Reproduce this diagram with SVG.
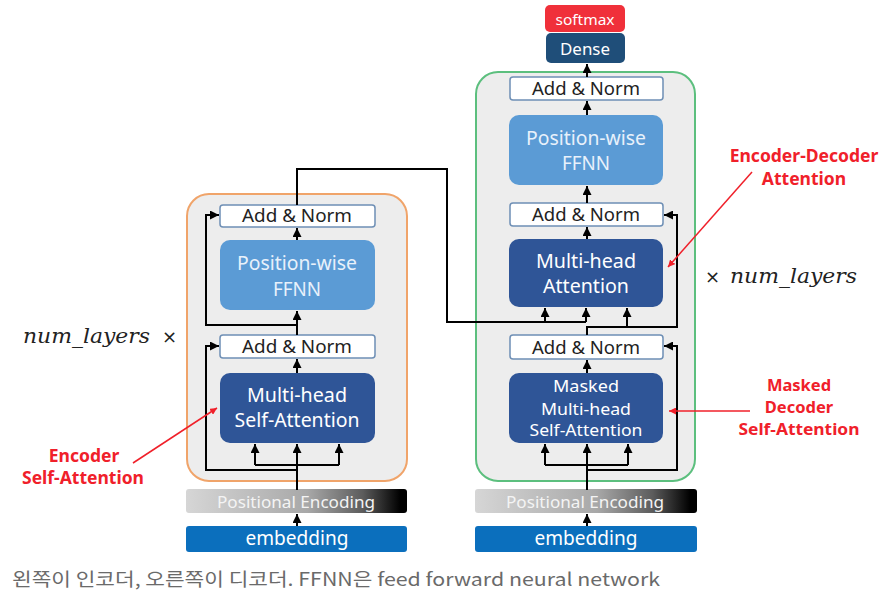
<svg xmlns="http://www.w3.org/2000/svg" width="894" height="599" viewBox="0 0 894 599">
<defs>
<linearGradient id="peGrad" x1="0" y1="0" x2="1" y2="0">
<stop offset="0" stop-color="#d6d6d6"/>
<stop offset="0.55" stop-color="#a8a8a8"/>
<stop offset="0.8" stop-color="#5c5c5c"/>
<stop offset="0.97" stop-color="#000000"/>
</linearGradient>
<marker id="ah" viewBox="0 0 10 10" refX="10" refY="5" markerWidth="9" markerHeight="9" markerUnits="userSpaceOnUse" orient="auto">
<path d="M0,0 L10,5 L0,10 z" fill="#000"/>
</marker>
<marker id="ahr" viewBox="0 0 10 10" refX="10" refY="5" markerWidth="7" markerHeight="7" markerUnits="userSpaceOnUse" orient="auto">
<path d="M0,0 L10,5 L0,10 z" fill="#f0202a"/>
</marker>
<style>
.cont{fill:#ededed;stroke-width:2}
.an{fill:#ffffff;stroke:#6e8fb5;stroke-width:1.5}
.ff{fill:#5b9bd5}
.mh{fill:#2f5597}
.t{font-family:"Noto Sans","Liberation Sans",sans-serif;text-anchor:middle}
.dk{fill:#222}
.wt{fill:#ffffff}
.lt{fill:#e8f1fb}
.red{font-family:"Noto Sans","Liberation Sans",sans-serif;font-weight:bold;fill:#f0202a;font-size:17.5px;text-anchor:middle}
.red2{font-family:"Noto Sans","Liberation Sans",sans-serif;font-weight:bold;fill:#f0202a;font-size:16.5px;text-anchor:middle}
.math{font-family:"DejaVu Serif","Liberation Serif",serif;font-style:italic;fill:#222;font-size:21px}
.x{font-family:"DejaVu Sans","Liberation Sans",sans-serif;fill:#222;font-size:18px}
.c{fill:none;stroke:#000;stroke-width:2}
.ca{fill:none;stroke:#000;stroke-width:2;marker-end:url(#ah)}
.cr{fill:none;stroke:#f0202a;stroke-width:1.5;marker-end:url(#ahr)}
</style>
</defs>
<rect width="894" height="599" fill="#ffffff"/>

<g id="encoder-block">
<rect class="cont" x="187" y="194" width="220" height="287" rx="22" stroke="#f0a46a"/>
</g>
<g id="decoder-block">
<rect class="cont" x="476" y="72" width="219" height="409" rx="22" stroke="#5cbf7e"/>
</g>

<g id="enc-embedding">
<rect x="186" y="526" width="221" height="26" rx="3" fill="#0b6fbd"/>
<text class="t wt" x="297" y="545" font-size="20" textLength="103" lengthAdjust="spacingAndGlyphs">embedding</text>
</g>
<g id="enc-pe">
<rect x="186" y="489" width="221" height="24" rx="3" fill="url(#peGrad)"/>
<text class="t" fill="#f4f4f4" x="296" y="508" font-size="17" textLength="158" lengthAdjust="spacingAndGlyphs">Positional Encoding</text>
</g>
<g id="enc-mhsa">
<rect class="mh" x="220" y="373" width="155" height="70" rx="10"/>
<text class="t wt" x="297" y="402" font-size="19" textLength="100" lengthAdjust="spacingAndGlyphs">Multi-head</text>
<text class="t wt" x="297" y="427" font-size="19" textLength="125" lengthAdjust="spacingAndGlyphs">Self-Attention</text>
</g>
<g id="enc-addnorm1">
<rect class="an" x="220" y="335" width="155" height="23" rx="3"/>
<text class="t dk" x="297" y="353" font-size="18" textLength="110" lengthAdjust="spacingAndGlyphs">Add &amp; Norm</text>
</g>
<g id="enc-ffnn">
<rect class="ff" x="220" y="240" width="155" height="70" rx="10"/>
<text class="t lt" x="297" y="270" font-size="19" textLength="120" lengthAdjust="spacingAndGlyphs">Position-wise</text>
<text class="t lt" x="297" y="296" font-size="19" textLength="48" lengthAdjust="spacingAndGlyphs">FFNN</text>
</g>
<g id="enc-addnorm2">
<rect class="an" x="220" y="205" width="155" height="22" rx="3"/>
<text class="t dk" x="297" y="222" font-size="18" textLength="110" lengthAdjust="spacingAndGlyphs">Add &amp; Norm</text>
</g>

<g id="dec-embedding">
<rect x="475" y="526" width="222" height="26" rx="3" fill="#0b6fbd"/>
<text class="t wt" x="586" y="545" font-size="20" textLength="103" lengthAdjust="spacingAndGlyphs">embedding</text>
</g>
<g id="dec-pe">
<rect x="475" y="489" width="222" height="24" rx="3" fill="url(#peGrad)"/>
<text class="t" fill="#f4f4f4" x="585" y="508" font-size="17" textLength="158" lengthAdjust="spacingAndGlyphs">Positional Encoding</text>
</g>
<g id="dec-masked">
<rect class="mh" x="509" y="373" width="154" height="70" rx="10"/>
<text class="t wt" x="586" y="392" font-size="17" textLength="66" lengthAdjust="spacingAndGlyphs">Masked</text>
<text class="t wt" x="586" y="415" font-size="17" textLength="90" lengthAdjust="spacingAndGlyphs">Multi-head</text>
<text class="t wt" x="586" y="436" font-size="17" textLength="113" lengthAdjust="spacingAndGlyphs">Self-Attention</text>
</g>
<g id="dec-addnorm1">
<rect class="an" x="510" y="335" width="153" height="24" rx="3"/>
<text class="t dk" x="586" y="354" font-size="18" textLength="108" lengthAdjust="spacingAndGlyphs">Add &amp; Norm</text>
</g>
<g id="dec-mha">
<rect class="mh" x="509" y="239" width="154" height="68" rx="10"/>
<text class="t wt" x="586" y="268" font-size="19" textLength="100" lengthAdjust="spacingAndGlyphs">Multi-head</text>
<text class="t wt" x="586" y="293" font-size="19" textLength="86" lengthAdjust="spacingAndGlyphs">Attention</text>
</g>
<g id="dec-addnorm2">
<rect class="an" x="510" y="203" width="153" height="23" rx="3"/>
<text class="t dk" x="586" y="221" font-size="18" textLength="108" lengthAdjust="spacingAndGlyphs">Add &amp; Norm</text>
</g>
<g id="dec-ffnn">
<rect class="ff" x="509" y="115" width="154" height="70" rx="10"/>
<text class="t lt" x="586" y="145" font-size="19" textLength="120" lengthAdjust="spacingAndGlyphs">Position-wise</text>
<text class="t lt" x="586" y="170" font-size="19" textLength="48" lengthAdjust="spacingAndGlyphs">FFNN</text>
</g>
<g id="dec-addnorm3">
<rect class="an" x="510" y="77" width="153" height="23" rx="3"/>
<text class="t dk" x="586" y="95" font-size="18" textLength="108" lengthAdjust="spacingAndGlyphs">Add &amp; Norm</text>
</g>
<g id="dense">
<rect x="546" y="33" width="79" height="30" rx="5" fill="#1f4e79"/>
<text class="t wt" x="585" y="55" font-size="17" textLength="50" lengthAdjust="spacingAndGlyphs">Dense</text>
</g>
<g id="softmax">
<rect x="545" y="5" width="80" height="27" rx="5" fill="#f0303a"/>
<text class="t wt" x="585" y="25" font-size="15" textLength="59" lengthAdjust="spacingAndGlyphs">softmax</text>
</g>

<g id="connectors">
<path class="ca" d="M297,526 L297,514"/>
<path class="c" d="M297,490 L297,465 M255,465 L339,465"/>
<path class="ca" d="M255,465 L255,444"/>
<path class="ca" d="M297,465 L297,444"/>
<path class="ca" d="M339,465 L339,444"/>
<path class="ca" d="M297,470 L206,470 L206,346 L219,346"/>
<path class="ca" d="M297,373 L297,359"/>
<path class="ca" d="M297,335 L297,311"/>
<path class="ca" d="M297,325 L206,325 L206,215 L219,215"/>
<path class="ca" d="M297,240 L297,228"/>
<path class="c" d="M297,205 L297,169 L447,169 L447,322 L586,322"/>
<path class="ca" d="M545,322 L545,308"/>
<path class="ca" d="M586,322 L586,308"/>

<path class="ca" d="M587,526 L587,514"/>
<path class="c" d="M587,490 L587,465 M545,465 L628,465"/>
<path class="ca" d="M545,465 L545,444"/>
<path class="ca" d="M587,465 L587,444"/>
<path class="ca" d="M628,465 L628,444"/>
<path class="ca" d="M587,470 L677,470 L677,346 L664,346"/>
<path class="ca" d="M587,373 L587,360"/>
<path class="ca" d="M587,335 L587,327 L677,327 L677,215 L664,215"/>
<path class="ca" d="M627,327 L627,308"/>
<path class="ca" d="M587,239 L587,227"/>
<path class="ca" d="M587,203 L587,186"/>
<path class="ca" d="M587,115 L587,101"/>
<path class="ca" d="M587,77 L587,64"/>

<path class="cr" d="M133,463 L217,408"/>
<path class="cr" d="M752,172 L668,267"/>
<path class="cr" d="M750,411 L669,411"/>
</g>

<g id="annotations">
<text class="math" x="23" y="343" textLength="127" lengthAdjust="spacingAndGlyphs">num_layers</text>
<text class="x" x="162" y="343">×</text>
<text class="x" x="705" y="283">×</text>
<text class="math" x="730" y="283" textLength="127" lengthAdjust="spacingAndGlyphs">num_layers</text>
<text class="red" x="84" y="462">Encoder</text>
<text class="red" x="83" y="484">Self-Attention</text>
<text class="red" x="804" y="162">Encoder-Decoder</text>
<text class="red" x="804" y="185">Attention</text>
<text class="red2" x="799" y="391">Masked</text>
<text class="red2" x="799" y="413">Decoder</text>
<text class="red2" x="799" y="435" textLength="121" lengthAdjust="spacingAndGlyphs">Self-Attention</text>
</g>

<text id="caption" x="12" y="586" font-family="'Noto Sans CJK KR','Noto Sans',sans-serif" font-size="18" fill="#6a6a6a" textLength="648" lengthAdjust="spacingAndGlyphs">왼쪽이 인코더, 오른쪽이 디코더. FFNN은 feed forward neural network</text>
</svg>
